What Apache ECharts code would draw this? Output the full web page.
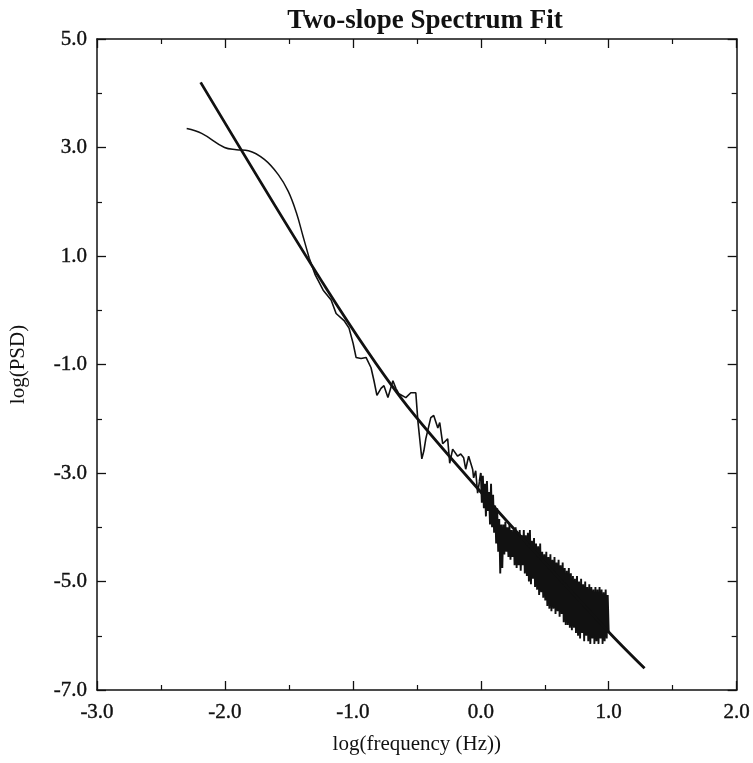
<!DOCTYPE html>
<html>
<head>
<meta charset="utf-8">
<script src="https://cdn.jsdelivr.net/npm/echarts@6/dist/echarts.min.js"></script>
<style>html,body{margin:0;padding:0;background:#fff;}#c{width:753px;height:763px;}</style>
</head>
<body>
<div id="c"></div>
<script>
// x ticks / y ticks
const xTicks = [-3, -2, -1, 0, 1, 2];
const yTicks = [-7, -5, -3, -1, 1, 3, 5];

// two-slope fit line (log f, log PSD)
const fitX = [-2.19, -1.21, -0.62, 0.0, 1.0, 1.28];
const fitY = [4.20, 0.41, -1.63, -3.35, -5.93, -6.60];

// low-frequency smooth part of the spectrum
const lowX = [-2.299, -2.182, -2.003, -1.910, -1.816, -1.692, -1.583, -1.505, -1.442, -1.388, -1.341];
const lowY = [3.35, 3.26, 3.00, 2.96, 2.94, 2.78, 2.50, 2.19, 1.80, 1.35, 0.96];

// mid-frequency wiggles
const midX = [-1.341, -1.294, -1.232, -1.170, -1.131, -1.069, -1.030, -0.998, -0.975, -0.936, -0.897, -0.858, -0.835, -0.812, -0.780, -0.757, -0.726, -0.687, -0.664, -0.640, -0.586, -0.547, -0.508, -0.492, -0.461, -0.445, -0.430, -0.391, -0.368, -0.336, -0.321, -0.298, -0.259, -0.243, -0.220, -0.181, -0.157, -0.134, -0.118, -0.095, -0.064, -0.056, -0.040, -0.025, -0.010];
const midY = [0.96, 0.65, 0.37, 0.19, -0.06, -0.19, -0.33, -0.61, -0.87, -0.89, -0.87, -1.06, -1.30, -1.57, -1.44, -1.39, -1.61, -1.30, -1.44, -1.54, -1.61, -1.52, -1.52, -2.04, -2.74, -2.59, -2.37, -1.98, -1.94, -2.17, -2.07, -2.46, -2.37, -2.82, -2.56, -2.69, -2.65, -2.72, -2.93, -2.69, -2.93, -3.09, -2.96, -3.37, -3.15];

// high-frequency noisy part
const highX = [0.000,0.008,0.016,0.024,0.032,0.040,0.048,0.056,0.064,0.072,0.080,0.088,0.096,0.104,0.112,0.120,0.128,0.136,0.144,0.152,0.160,0.168,0.176,0.184,0.192,0.200,0.208,0.216,0.224,0.232,0.240,0.248,0.256,0.264,0.272,0.280,0.288,0.296,0.304,0.312,0.320,0.328,0.336,0.344,0.352,0.360,0.368,0.376,0.384,0.392,0.400,0.408,0.416,0.424,0.432,0.440,0.448,0.456,0.464,0.472,0.480,0.488,0.496,0.504,0.512,0.520,0.528,0.536,0.544,0.552,0.560,0.568,0.576,0.584,0.592,0.600,0.608,0.616,0.624,0.632,0.640,0.648,0.656,0.664,0.672,0.680,0.688,0.696,0.704,0.712,0.720,0.728,0.736,0.744,0.752,0.760,0.768,0.776,0.784,0.792,0.800,0.808,0.816,0.824,0.832,0.840,0.848,0.856,0.864,0.872,0.880,0.888,0.896,0.904,0.912,0.920,0.928,0.936,0.944,0.952,0.960,0.968,0.976,0.984,0.992,1.000];
const highY = [-3.00,-3.55,-3.05,-3.65,-3.20,-3.80,-3.15,-3.70,-3.35,-3.95,-3.20,-4.00,-3.40,-4.10,-3.60,-4.30,-3.65,-4.45,-3.85,-4.85,-3.95,-4.75,-3.95,-4.50,-3.90,-4.45,-4.00,-4.55,-3.95,-4.60,-4.05,-4.55,-4.05,-4.70,-4.00,-4.75,-4.10,-4.70,-4.05,-4.80,-4.15,-4.70,-4.05,-4.85,-4.15,-4.90,-4.10,-5.00,-4.05,-5.05,-4.25,-4.95,-4.20,-5.10,-4.30,-5.15,-4.35,-5.25,-4.30,-5.20,-4.45,-5.30,-4.50,-5.35,-4.45,-5.45,-4.55,-5.50,-4.50,-5.55,-4.60,-5.50,-4.55,-5.60,-4.65,-5.55,-4.60,-5.65,-4.70,-5.60,-4.65,-5.75,-4.75,-5.80,-4.80,-5.80,-4.75,-5.85,-4.85,-5.90,-4.90,-5.85,-4.95,-5.95,-4.90,-6.00,-5.00,-6.05,-4.95,-5.95,-5.05,-6.10,-5.00,-6.00,-5.10,-6.10,-5.05,-6.15,-5.10,-6.05,-5.15,-6.15,-5.10,-6.10,-5.15,-6.15,-5.10,-6.05,-5.15,-6.15,-5.20,-6.10,-5.15,-6.05,-5.25,-5.95];

const zip = (xs, ys) => xs.map((x, i) => [x, ys[i]]);
const serif = 'Liberation Serif';
const ink = '#111';

const chart = echarts.init(document.getElementById('c'), null, {renderer: 'canvas'});

const labelStyle = {fontFamily: serif, fontSize: 21, color: ink, textBorderColor: ink, textBorderWidth: 0.4};

const xCommon = {
  type: 'value', min: xTicks[0], max: xTicks[xTicks.length - 1], interval: 1,
  axisLine: {show: true, onZero: false, lineStyle: {color: ink, width: 1.5}},
  axisTick: {show: true, inside: true, length: 9, lineStyle: {color: ink, width: 1.3}},
  minorTick: {show: true, splitNumber: 2, length: 5, lineStyle: {color: ink, width: 1.2}},
  splitLine: {show: false}, minorSplitLine: {show: false}
};
const yCommon = {
  type: 'value', min: yTicks[0], max: yTicks[yTicks.length - 1], interval: 2,
  axisLine: {show: true, onZero: false, lineStyle: {color: ink, width: 1.5}},
  axisTick: {show: true, inside: true, length: 9, lineStyle: {color: ink, width: 1.3}},
  minorTick: {show: true, splitNumber: 2, length: 5, lineStyle: {color: ink, width: 1.2}},
  splitLine: {show: false}, minorSplitLine: {show: false}
};

chart.setOption({
  backgroundColor: '#fff',
  animation: false,
  title: {
    text: 'Two-slope Spectrum Fit',
    left: 420, top: 3, textAlign: 'center',
    textStyle: {fontFamily: serif, fontWeight: 'bold', fontSize: 27, color: ink}
  },
  grid: {left: 95, right: 16, top: 39, bottom: 73, containLabel: false},
  xAxis: [
    Object.assign({}, xCommon, {
      position: 'bottom',
      name: 'log(frequency (Hz))', nameLocation: 'middle', nameGap: 44,
      nameTextStyle: {fontFamily: serif, fontSize: 21, color: ink},
      axisLabel: Object.assign({show: true, margin: 12, formatter: v => v.toFixed(1)}, labelStyle)
    }),
    Object.assign({}, xCommon, {position: 'top', axisLabel: {show: false}})
  ],
  yAxis: [
    Object.assign({}, yCommon, {
      position: 'left',
      name: 'log(PSD)', nameLocation: 'middle', nameGap: 68, nameRotate: 90,
      nameTextStyle: {fontFamily: serif, fontSize: 21, color: ink},
      axisLabel: Object.assign({show: true, margin: 10, formatter: v => v.toFixed(1)}, labelStyle)
    }),
    Object.assign({}, yCommon, {position: 'right', axisLabel: {show: false}})
  ],
  series: [
    {type: 'line', data: zip(lowX, lowY), smooth: 0.4, showSymbol: false,
      lineStyle: {color: ink, width: 1.5}},
    {type: 'line', data: zip(midX, midY), smooth: false, showSymbol: false,
      lineStyle: {color: ink, width: 1.6}},
    {type: 'line', data: [[midX[midX.length - 1], midY[midY.length - 1]]].concat(zip(highX, highY)), smooth: false, showSymbol: false,
      lineStyle: {color: ink, width: 1.9}},
    {type: 'line', data: zip(fitX, fitY), smooth: 0.3, showSymbol: false,
      lineStyle: {color: ink, width: 2.8}}
  ]
});
</script>
</body>
</html>
